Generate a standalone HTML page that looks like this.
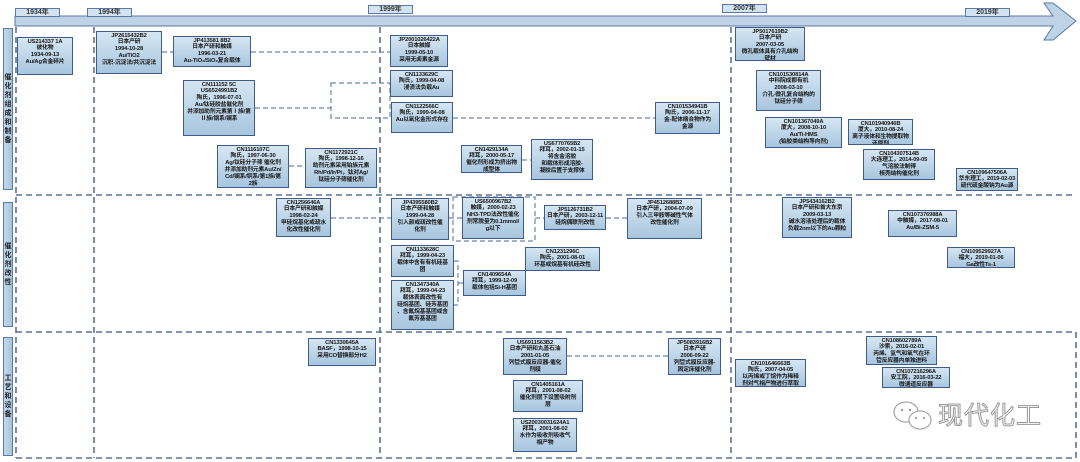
<!DOCTYPE html>
<html><head><meta charset="utf-8">
<style>
body{margin:0;width:1080px;height:462px;background:#fff;position:relative;overflow:hidden;font-family:"Liberation Sans","Noto Sans CJK SC",sans-serif;}
.b{position:absolute;box-sizing:border-box;border:1.3px solid #3d5d88;background:linear-gradient(#d6e6f2,#a8c6df);color:#151515;font-size:5.8px;line-height:6.9px;letter-spacing:-0.15px;text-align:center;padding-top:0.5px;overflow:hidden;white-space:nowrap;font-weight:bold;}
.y{position:absolute;box-sizing:border-box;border:1px solid #5b7aa3;background:#d4e3f0;font-size:7px;line-height:7px;height:9px;width:45px;text-align:center;font-weight:bold;color:#333;}
.s{position:absolute;box-sizing:border-box;border:1px solid #5b7aa3;background:linear-gradient(90deg,#c4d8ea,#a9c4dd);width:10px;left:3px;font-size:7px;line-height:9px;font-weight:bold;color:#222;display:flex;align-items:center;justify-content:center;text-align:center;}
</style></head><body>
<svg width="1080" height="462" style="position:absolute;left:0;top:0">
<polygon points="15,16 1053,16 1044,3 1053,3 1076,21 1053,40 1044,40 1053,26 15,26" fill="#bfd3e6" stroke="#5b7aa3" stroke-width="1"/>
<g stroke="#5a7397" stroke-width="1.6" stroke-dasharray="6,4" fill="none">
<line x1="16" y1="27" x2="16" y2="458"/>
<line x1="94" y1="27" x2="94" y2="458"/>
<line x1="380" y1="27" x2="380" y2="458"/>
<line x1="731" y1="27" x2="731" y2="458"/>
<line x1="1076" y1="332" x2="1076" y2="458"/>
<line x1="16" y1="195" x2="1076" y2="195"/>
<line x1="16" y1="332" x2="1076" y2="332"/>
<line x1="16" y1="458" x2="1076" y2="458"/>
</g>
<g stroke="#6f86a6" stroke-width="1.2" stroke-dasharray="5,3" fill="none">
<line x1="162" y1="52" x2="173" y2="52"/>
<line x1="251" y1="52" x2="390" y2="52"/>
<line x1="255" y1="108" x2="331" y2="108"/>
<rect x="331" y="83" width="59" height="35"/>
<line x1="289" y1="166" x2="305" y2="166"/>
<line x1="453" y1="118" x2="655" y2="118"/>
<line x1="522" y1="160" x2="531" y2="160"/>
<line x1="331" y1="218" x2="391" y2="218"/>
<line x1="449" y1="218" x2="462" y2="218"/>
<rect x="453" y="197" width="82" height="44"/>
<line x1="535" y1="218" x2="544" y2="218"/>
<line x1="606" y1="218" x2="627" y2="218"/>
<polyline points="454,261 458,261 458,305 454,305"/>
<line x1="458" y1="283" x2="463" y2="283"/>
<line x1="567" y1="356" x2="668" y2="356"/>
</g>
</svg>
<div class="y" style="left:15px;top:8px">1934年</div>
<div class="y" style="left:87px;top:8px">1994年</div>
<div class="y" style="left:368px;top:5px">1999年</div>
<div class="y" style="left:722px;top:4px">2007年</div>
<div class="y" style="left:965px;top:8px">2019年</div>
<div class="s" style="top:28px;height:162px">催<br>化<br>剂<br>组<br>成<br>和<br>制<br>备</div>
<div class="s" style="top:202px;height:125px">催<br>化<br>剂<br>改<br>性</div>
<div class="s" style="top:337px;height:119px">工<br>艺<br>和<br>设<br>备</div>

<div class="b" style="left:17px;top:37px;width:56px;height:38px">US214337 1A<br>彼化物<br>1934-09-13<br>Au/Ag合金碎片</div>
<div class="b" style="left:96px;top:31px;width:66px;height:43px">JP2615432B2<br>日本产研<br>1994-10-28<br>Au/TiO2<br>沉积-沉淀法/共沉淀法</div>
<div class="b" style="left:173px;top:36px;width:78px;height:31px">JP413581 8B2<br>日本产研和触媒<br>1996-03-21<br>Au-TiO₂/SiO₂复合载体</div>
<div class="b" style="left:183px;top:80px;width:72px;height:56px">CN111152 5C<br>US6524991B2<br>陶氏，1996-07-01<br>Au/钛硅胶盐催化剂<br>并添加助剂元素第Ⅰ族/第<br>Ⅱ族/钢系/镧系</div>
<div class="b" style="left:217px;top:145px;width:72px;height:43px">CN1116107C<br>陶氏，1997-06-30<br>Ag/钛硅分子筛 催化剂<br>并添加助剂元素Au/Zn/<br>Cd/镧系/铜系/第1族/第<br>2族</div>
<div class="b" style="left:305px;top:148px;width:72px;height:40px">CN1172921C<br>陶氏，1998-12-16<br>助剂元素采用铂族元素<br>Rh/Pd/Ir/Pt，钛对Ag/<br>钛硅分子筛催化剂</div>
<div class="b" style="left:390px;top:35px;width:58px;height:32px">JP2001026422A<br>日本触媒<br>1999-05-10<br>采用无卤素金源</div>
<div class="b" style="left:390px;top:70px;width:63px;height:27px">CN1133629C<br>陶氏，1999-04-08<br>浸渍法负载Au</div>
<div class="b" style="left:391px;top:102px;width:62px;height:31px">CN1122566C<br>陶氏，1999-04-08<br>Au以氧化金形式存在</div>
<div class="b" style="left:461px;top:145px;width:61px;height:28px">CN1429134A<br>拜耳，2000-05-17<br>催化剂形成为挤出物<br>成型体</div>
<div class="b" style="left:531px;top:139px;width:62px;height:41px">US6770765B2<br>拜耳，2002-01-15<br>将含金溶胶<br>和载体形成溶胶-<br>凝胶后置于支撑体</div>
<div class="b" style="left:655px;top:102px;width:65px;height:32px">CN101534941B<br>陶氏，2006-11-17<br>金-配体络合物作为<br>金源</div>
<div class="b" style="left:735px;top:27px;width:70px;height:34px">JP5017619B2<br>日本产研<br>2007-03-05<br>微孔载体具有介孔结构<br>壁材</div>
<div class="b" style="left:756px;top:70px;width:65px;height:41px">CN101530814A<br>中科院成都有机<br>2008-03-10<br>介孔-微孔复合结构的<br>钛硅分子筛</div>
<div class="b" style="left:765px;top:117px;width:77px;height:31px">CN101367049A<br>厦大，2008-10-10<br>Au/Ti-HMS<br>(铂胶类结构导向剂)</div>
<div class="b" style="left:848px;top:119px;width:65px;height:26px">CN101940946B<br>厦大，2010-08-24<br>离子液体和生物提取物<br>还原剂</div>
<div class="b" style="left:863px;top:149px;width:72px;height:31px">CN104307514B<br>大连理工，2014-09-05<br>气溶胶法制得<br>核壳结构催化剂</div>
<div class="b" style="left:956px;top:168px;width:62px;height:23px">CN109647506A<br>华东理工，2019-02-03<br>硫代硫金酸钠为Au源</div>

<div class="b" style="left:276px;top:198px;width:55px;height:39px">CN1256646A<br>日本产研和触媒<br>1998-02-24<br>甲硅烷基化或疏水<br>化改性催化剂</div>
<div class="b" style="left:391px;top:198px;width:58px;height:42px">JP4395580B2<br>日本产研和触媒<br>1999-04-28<br>引入颜或疏改性催<br>化剂</div>
<div class="b" style="left:462px;top:197px;width:62px;height:42px">US6500967B2<br>触媒，2000-02-23<br>NH3-TPD法改性催化<br>剂常脱量为0.1mmol/<br>g以下</div>
<div class="b" style="left:544px;top:205px;width:62px;height:25px">JP5126731B2<br>日本产研，2003-12-11<br>硅烷偶联剂改性</div>
<div class="b" style="left:627px;top:198px;width:75px;height:41px">JP4512688B2<br>日本产研，2004-07-09<br>引入三甲胺等碱性气体<br>改性催化剂</div>
<div class="b" style="left:391px;top:245px;width:63px;height:32px">CN1133628C<br>拜耳，1999-04-23<br>载体中含有有机硅基<br>团</div>
<div class="b" style="left:391px;top:280px;width:63px;height:50px">CN1347340A<br>拜耳，1999-04-23<br>载体表面改性有<br>硅烷基团、硅芳基团<br>、含氟烷基基团或含<br>氟芳基基团</div>
<div class="b" style="left:463px;top:270px;width:63px;height:26px">CN1409654A<br>拜耳，1999-12-09<br>载体包括Si-H基团</div>
<div class="b" style="left:525px;top:247px;width:75px;height:24px">CN1231296C<br>陶氏，2001-08-01<br>环基或烷基有机硅改性</div>
<div class="b" style="left:782px;top:197px;width:70px;height:41px">JP5434162B2<br>日本产研和首大东京<br>2009-03-13<br>碱水溶液处理后的载体<br>负载2nm以下的Au颗粒</div>
<div class="b" style="left:888px;top:210px;width:69px;height:27px">CN107376988A<br>中触媒，2017-08-01<br>Au/Bi-ZSM-5</div>
<div class="b" style="left:947px;top:247px;width:68px;height:21px">CN109529927A<br>福大，2019-01-06<br>Ga改性Ts-1</div>

<div class="b" style="left:308px;top:338px;width:68px;height:28px">CN1330645A<br>BASF，1998-10-15<br>采用CO替换部分H2</div>
<div class="b" style="left:503px;top:338px;width:64px;height:37px">US6911563B2<br>日本产研和丸善石油<br>2001-01-05<br>列管式膜反应器-催化<br>剂膜</div>
<div class="b" style="left:513px;top:380px;width:70px;height:32px">CN1405161A<br>拜耳，2001-08-02<br>催化剂层下设置吸附剂<br>层</div>
<div class="b" style="left:513px;top:418px;width:64px;height:34px">US20030031624A1<br>拜耳，2001-08-02<br>水作为吸收剂吸收气<br>相产物</div>
<div class="b" style="left:668px;top:338px;width:53px;height:37px">JP5083916B2<br>日本产研<br>2006-09-22<br>列管式膜反应器-<br>固定床催化剂</div>
<div class="b" style="left:735px;top:359px;width:71px;height:28px">CN101646663B<br>陶氏，2007-04-05<br>以丙烯或丁烷作为稀释<br>剂对气相产物进行萃取</div>
<div class="b" style="left:866px;top:336px;width:71px;height:29px">CN108602789A<br>沙索，2016-02-01<br>丙烯、氢气和氧气在环<br>管反应器内单独进料</div>
<div class="b" style="left:882px;top:367px;width:68px;height:21px">CN107216296A<br>安工院，2016-03-22<br>微通道反应器</div>

<svg width="60" height="40" style="position:absolute;left:890px;top:398px">
<g fill="none" stroke="#aaa" stroke-width="1.3">
<ellipse cx="16" cy="14" rx="12" ry="10"/>
<ellipse cx="30" cy="22" rx="11" ry="9" fill="#fff"/>
</g>
<g fill="#999"><circle cx="12" cy="12" r="1.2"/><circle cx="20" cy="12" r="1.2"/><circle cx="26" cy="20" r="1.1"/><circle cx="34" cy="20" r="1.1"/></g>
</svg>
<div style="position:absolute;left:938px;top:399px;font-size:25px;line-height:30px;color:#fff;-webkit-text-stroke:1px #999;font-family:'Noto Sans CJK SC',sans-serif;letter-spacing:1px">现代化工</div>
</body></html>
